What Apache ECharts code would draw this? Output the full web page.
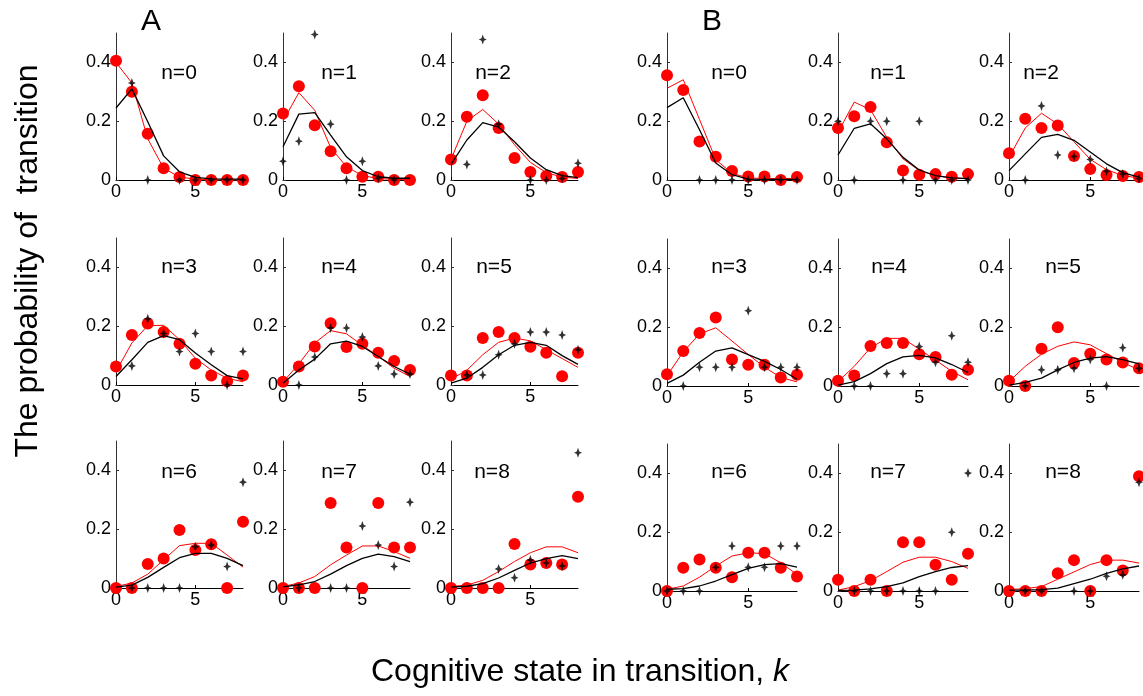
<!DOCTYPE html>
<html><head><meta charset="utf-8">
<script src="https://cdn.jsdelivr.net/npm/echarts@6/dist/echarts.min.js"></script>
<style>html,body{margin:0;padding:0;background:#fff}#c{width:1143px;height:696px}</style>
</head><body><div id="c"></div>
<script>
// k values (cognitive state)
const K = [0,1,2,3,4,5,6,7,8];
const nLabels = ['n=0','n=1','n=2','n=3','n=4','n=5','n=6','n=7','n=8'];
const xTickStep = 5;
const yTickStep = 0.2;

// Panel A: observed (red dots), model red line, model black line, observed black stars
const dotsA = [
 [0.406,0.30,0.157,0.04,0.01,0,0,0,0],
 [0.226,0.319,0.186,0.098,0.04,0.011,0.011,0,0],
 [0.07,0.215,0.288,0.177,0.075,0.027,0.014,0.01,0.027],
 [0.063,0.17,0.209,0.18,0.14,0.072,0.032,0.013,0.032],
 [0.011,0.063,0.131,0.21,0.129,0.14,0.11,0.082,0.051],
 [0.032,0.032,0.16,0.18,0.16,0.13,0.11,0.03,0.11],
 [0,0,0.082,0.1,0.197,0.129,0.149,0,0.225],
 [0,0,0,0.289,0.138,0,0.289,0.138,0.138],
 [0,0,0,0,0.15,0.08,0.085,0.08,0.31]
];
const redA = [
 [0.40,0.33,0.14,0.04,0.01,0.003,0.001,0,0],
 [0.20,0.297,0.237,0.11,0.045,0.015,0.005,0.002,0.001],
 [0.07,0.2,0.24,0.19,0.12,0.06,0.025,0.01,0.005],
 [0.046,0.143,0.202,0.203,0.154,0.091,0.051,0.023,0.011],
 [0.01,0.072,0.143,0.185,0.174,0.135,0.097,0.057,0.029],
 [0.02,0.05,0.103,0.145,0.16,0.15,0.12,0.09,0.06],
 [0.005,0.017,0.047,0.096,0.144,0.152,0.152,0.112,0.071],
 [0.005,0.017,0.039,0.079,0.112,0.143,0.143,0.124,0.101],
 [0.005,0.01,0.026,0.056,0.09,0.12,0.14,0.14,0.12]
];
const blackA = [
 [0.245,0.31,0.198,0.082,0.028,0.009,0.004,0.003,0.003],
 [0.113,0.224,0.229,0.153,0.079,0.032,0.011,0.006,0.006],
 [0.053,0.136,0.195,0.18,0.13,0.075,0.035,0.015,0.008],
 [0.029,0.086,0.145,0.168,0.154,0.109,0.069,0.032,0.021],
 [0.006,0.051,0.088,0.14,0.149,0.131,0.097,0.063,0.037],
 [0.006,0.023,0.06,0.103,0.135,0.145,0.135,0.1,0.07],
 [0.003,0.01,0.036,0.07,0.103,0.118,0.118,0.101,0.076],
 [0.004,0.011,0.022,0.047,0.076,0.101,0.115,0.107,0.09],
 [0.003,0.006,0.015,0.034,0.06,0.085,0.1,0.11,0.1]
];
const starsA = [
 [null,0.33,0,null,0,0,0,0,0],
 [0.064,0.132,0.495,0.19,0,0.064,0.006,0,null],
 [null,0.053,0.478,0.19,null,0,0,0.005,0.057],
 [null,0.065,0.225,0.175,0.114,0.175,0.114,0,0.114],
 [null,0,0.095,0.194,0.194,0.163,0.065,0.037,0.037],
 [null,0.034,0.034,0.103,0.14,0.18,0.18,0.17,0.12],
 [null,0,0,0,0,0.14,0.146,0.073,0.36],
 [null,0,null,0,0,0.211,0.146,0.073,0.292],
 [null,null,null,0.065,0.035,0.095,0.085,0.075,0.46]
];

// Panel B
const dotsB = [
 [0.356,0.306,0.131,0.079,0.031,0.012,0.012,0,0.01],
 [0.177,0.217,0.248,0.128,0.032,0.018,0.02,0.011,0.02],
 [0.091,0.208,0.177,0.185,0.082,0.037,0.017,0.014,0.01],
 [0.04,0.119,0.18,0.233,0.09,0.072,0.072,0.029,0.038],
 [0.018,0.036,0.136,0.146,0.146,0.108,0.099,0.038,0.055],
 [0.018,0,0.127,0.2,0.078,0.11,0.09,0.08,0.06],
 [0,0.079,0.107,0.079,0.047,0.13,0.13,0.079,0.049],
 [0.038,0,0.038,0,0.166,0.166,0.089,0.038,0.127],
 [0,0,0,0.06,0.105,0,0.105,0.07,0.39]
];
const redB = [
 [0.312,0.341,0.206,0.069,0.023,0.007,0.005,0.005,0.005],
 [0.162,0.265,0.239,0.145,0.072,0.032,0.015,0.007,0.005],
 [0.077,0.177,0.227,0.19,0.13,0.07,0.035,0.015,0.007],
 [0.035,0.116,0.177,0.198,0.153,0.107,0.064,0.029,0.014],
 [0.015,0.067,0.13,0.162,0.162,0.125,0.088,0.05,0.021],
 [0.015,0.067,0.108,0.135,0.15,0.14,0.11,0.08,0.055],
 [0.006,0.017,0.047,0.085,0.119,0.13,0.127,0.096,0.056],
 [0.003,0.015,0.035,0.066,0.098,0.115,0.115,0.1,0.077],
 [0.005,0.008,0.015,0.04,0.065,0.09,0.105,0.105,0.095]
];
const blackB = [
 [0.246,0.28,0.171,0.058,0.018,0.003,0.002,0.002,0.002],
 [0.085,0.176,0.191,0.14,0.077,0.034,0.015,0.007,0.005],
 [0.032,0.089,0.145,0.155,0.135,0.095,0.055,0.025,0.01],
 [0.009,0.037,0.081,0.119,0.13,0.107,0.084,0.056,0.023],
 [0.003,0.015,0.042,0.076,0.099,0.104,0.096,0.073,0.046],
 [0.003,0.012,0.027,0.055,0.08,0.095,0.1,0.09,0.075],
 [0.006,0.008,0.017,0.034,0.056,0.077,0.09,0.093,0.081],
 [0.002,0.003,0.007,0.015,0.028,0.049,0.066,0.08,0.086],
 [0.003,0.003,0.005,0.01,0.025,0.04,0.06,0.075,0.085]
];
const starsB = [
 [null,null,0,0,0,0,0,0,0],
 [0.2,0,0.2,0.2,0,0.2,0,0,0],
 [null,0,0.252,0.085,0.08,0.07,0.03,0.02,0.005],
 [null,0,0.064,0.064,0.064,0.256,0.064,0.064,0.064],
 [null,0,0,0.042,0.042,0.134,0.081,0.171,0.081],
 [null,0,0.055,0.055,0.06,0.09,0,0.13,0.06],
 [0,0,0,0.081,0.153,0.081,0.081,0.153,0.153],
 [null,0,0,0,0,0,0,0.2,0.401],
 [null,0,0,null,0,0,0.05,0.055,0.37]
];

// ---- layout ----
const groups = [
  {name:'A', dots:dotsA, red:redA, black:blackA, stars:starsA,
   lefts:[116,283,451], tops:[33,238,441], width:127, height:147,
   labelX:[[179,339,493],[179,339,494],[179,339,492]], labelY:[73,267,472], letter:[151,22]},
  {name:'B', dots:dotsB, red:redB, black:blackB, stars:starsB,
   lefts:[667,838,1009], tops:[33,239,444], width:130, height:147,
   labelX:[[729,888,1041],[729,889,1063],[729,888,1063]], labelY:[73,267,472], letter:[712,22]}
];
const FONT = 'Liberation Sans, Arial, sans-serif';
const starPath = 'path://M0,-10 L2.6,-2.6 L8,0 L2.6,2.6 L0,10 L-2.6,2.6 L-8,0 L-2.6,-2.6 Z';

const grid=[], xAxis=[], yAxis=[], series=[], graphic=[];
let gi = 0;
groups.forEach(g => {
  graphic.push({type:'text', x:g.letter[0], y:g.letter[1],
    style:{text:g.name, font:'30px '+FONT, fill:'#000', textAlign:'center', textVerticalAlign:'middle'}});
  for (let n=0;n<9;n++){
    const r = Math.floor(n/3), c = n%3;
    grid.push({left:g.lefts[c], top:g.tops[r], width:g.width, height:g.height, containLabel:false});
    xAxis.push({gridIndex:gi, type:'value', min:0, max:8, interval:xTickStep,
      axisLine:{show:true, onZero:false, lineStyle:{color:'#000', width:1}},
      axisTick:{show:true, inside:true, length:3, lineStyle:{color:'#000'}},
      axisLabel:{show:true, showMaxLabel:false, fontSize:18, color:'#000', fontFamily:FONT, margin:3},
      splitLine:{show:false}});
    yAxis.push({gridIndex:gi, type:'value', min:0, max:0.5, interval:yTickStep,
      axisLine:{show:true, onZero:false, lineStyle:{color:'#333', width:1}},
      axisTick:{show:true, inside:true, length:3, lineStyle:{color:'#333'}},
      axisLabel:{show:true, showMaxLabel:false, fontSize:18, color:'#000', fontFamily:FONT, margin:5},
      splitLine:{show:false}});
    const pair = arr => K.map((k,i)=>[k, arr[i]]);
    series.push({type:'scatter', xAxisIndex:gi, yAxisIndex:gi, data:pair(g.dots[n]),
      symbol:'circle', symbolSize:12, itemStyle:{color:'#ff0000', opacity:1}, clip:false, z:2, silent:true});
    series.push({type:'line', xAxisIndex:gi, yAxisIndex:gi, data:pair(g.red[n]),
      showSymbol:false, symbol:'none', lineStyle:{color:'#ff0000', width:1}, z:3, silent:true, animation:false});
    series.push({type:'line', xAxisIndex:gi, yAxisIndex:gi, data:pair(g.black[n]),
      showSymbol:false, symbol:'none', lineStyle:{color:'#000', width:1.3}, z:4, silent:true, animation:false});
    series.push({type:'scatter', xAxisIndex:gi, yAxisIndex:gi,
      data:pair(g.stars[n]).filter(p=>p[1]!==null),
      symbol:starPath, symbolSize:[8,10], itemStyle:{color:'#000'}, clip:false, z:5, silent:true});
    graphic.push({type:'text', x:g.labelX[r][c], y:g.labelY[r],
      style:{text:nLabels[n], font:'21px '+FONT, fill:'#000', textAlign:'center', textVerticalAlign:'middle'}});
    gi++;
  }
});
graphic.push({type:'text', x:28, y:261, rotation:Math.PI/2,
  style:{text:'The probability of  transition', font:'32px '+FONT, fill:'#000', textAlign:'center', textVerticalAlign:'middle'}});
graphic.push({type:'text', x:580, y:672,
  style:{text:'{a|Cognitive state in transition, }{b|k}', textAlign:'center', textVerticalAlign:'middle',
    rich:{a:{fontSize:32, fontFamily:FONT, fill:'#000', color:'#000'}, b:{fontSize:32, fontFamily:FONT, fontStyle:'italic', color:'#000', fill:'#000'}}}});

const chart = echarts.init(document.getElementById('c'), null, {renderer:'canvas'});
chart.setOption({backgroundColor:'#fff', animation:false, grid, xAxis, yAxis, series, graphic});
</script></body></html>
